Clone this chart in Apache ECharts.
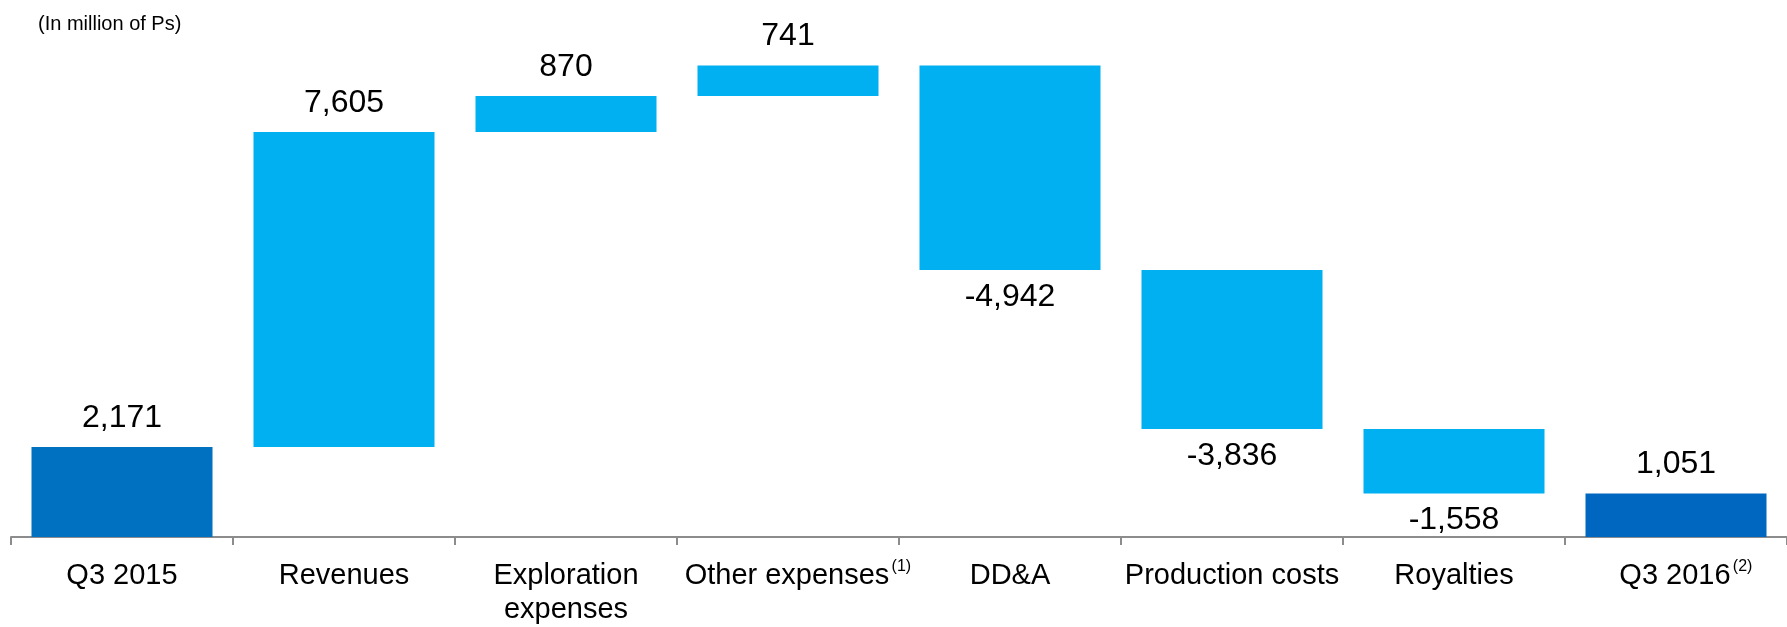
<!DOCTYPE html>
<html>
<head>
<meta charset="utf-8">
<title>Operating income bridge Q3 2015 – Q3 2016</title>
<script src="https://cdn.jsdelivr.net/npm/echarts@6/dist/echarts.min.js"></script>
<style>
  html, body { margin: 0; padding: 0; background: #ffffff; }
  #chart { width: 1787px; height: 627px; }
</style>
</head>
<body>
<div id="chart"></div>
<script>
// Bridge steps: first and last entries are totals, the rest are changes.
const categories = ['Q3 2015', 'Revenues', 'Exploration\nexpenses', 'Other expenses', 'DD&A', 'Production costs', 'Royalties', 'Q3 2016'];
const footnotes = ['', '', '', '(1)', '', '', '', '(2)'];
const values = [2171, 7605, 870, 741, -4942, -3836, -1558, 1051];
const isTotal = [true, false, false, false, false, false, false, true];
const yTicks = { min: 0, max: 12000 };

const DARK = '#0070C0';
const DARK_END = '#0067C0';
const LIGHT = '#00B0F0';
const FONT = '"Liberation Sans", Arial, sans-serif';

// Stack an invisible base under each visible bar to float the changes.
const base = [];
const height = [];
let running = 0;
values.forEach((v, i) => {
  if (isTotal[i]) {
    base.push(0);
    height.push(v);
    running = v;
  } else if (v >= 0) {
    base.push(running);
    height.push(v);
    running += v;
  } else {
    running += v;
    base.push(running);
    height.push(-v);
  }
});

const fmt = n => (n < 0 ? '-' : '') + Math.abs(n).toLocaleString('en-US');

const barData = height.map((h, i) => ({
  value: h,
  itemStyle: { color: isTotal[i] ? (i === 0 ? DARK : DARK_END) : LIGHT },
  label: {
    show: true,
    position: values[i] < 0 ? 'bottom' : 'top',
    distance: values[i] < 0 ? 11 : 13,
    formatter: fmt(values[i])
  }
}));

const chart = echarts.init(document.getElementById('chart'), null, { renderer: 'canvas' });

chart.setOption({
  animation: false,
  backgroundColor: '#ffffff',
  title: {
    text: '(In million of Ps)',
    left: 33,
    top: 9,
    textStyle: { fontFamily: FONT, fontSize: 20, fontWeight: 'normal', color: '#000000' }
  },
  grid: { left: 11, top: 40, bottom: 82, width: 1784, containLabel: false },
  xAxis: {
    type: 'category',
    data: categories,
    axisLine: { show: true, lineStyle: { color: '#8c8c8c', width: 2 } },
    axisTick: { show: true, length: 8, lineStyle: { color: '#8c8c8c', width: 2 } },
    axisLabel: {
      interval: 0,
      margin: 22,
      color: '#000000',
      fontFamily: FONT,
      fontSize: 29,
      lineHeight: 34,
      formatter: (val, idx) => {
        const note = footnotes[idx];
        return note ? '{pad|}' + val + '{sup|' + note + '}' : val;
      },
      rich: {
        pad: { width: 20, fontSize: 29 },
        sup: { fontSize: 16, width: 20, align: 'left', verticalAlign: 'top', padding: [0, 0, 14, 2], fontFamily: FONT, color: '#000000' }
      }
    }
  },
  yAxis: {
    type: 'value',
    min: yTicks.min,
    max: yTicks.max,
    show: false,
    splitLine: { show: false }
  },
  series: [
    {
      type: 'bar',
      stack: 'bridge',
      data: base,
      barWidth: 181,
      itemStyle: { color: 'transparent' },
      emphasis: { disabled: true },
      silent: true
    },
    {
      type: 'bar',
      stack: 'bridge',
      data: barData,
      barWidth: 181,
      label: {
        show: true,
        fontFamily: FONT,
        fontSize: 32,
        color: '#000000'
      }
    }
  ]
});
</script>
</body>
</html>
